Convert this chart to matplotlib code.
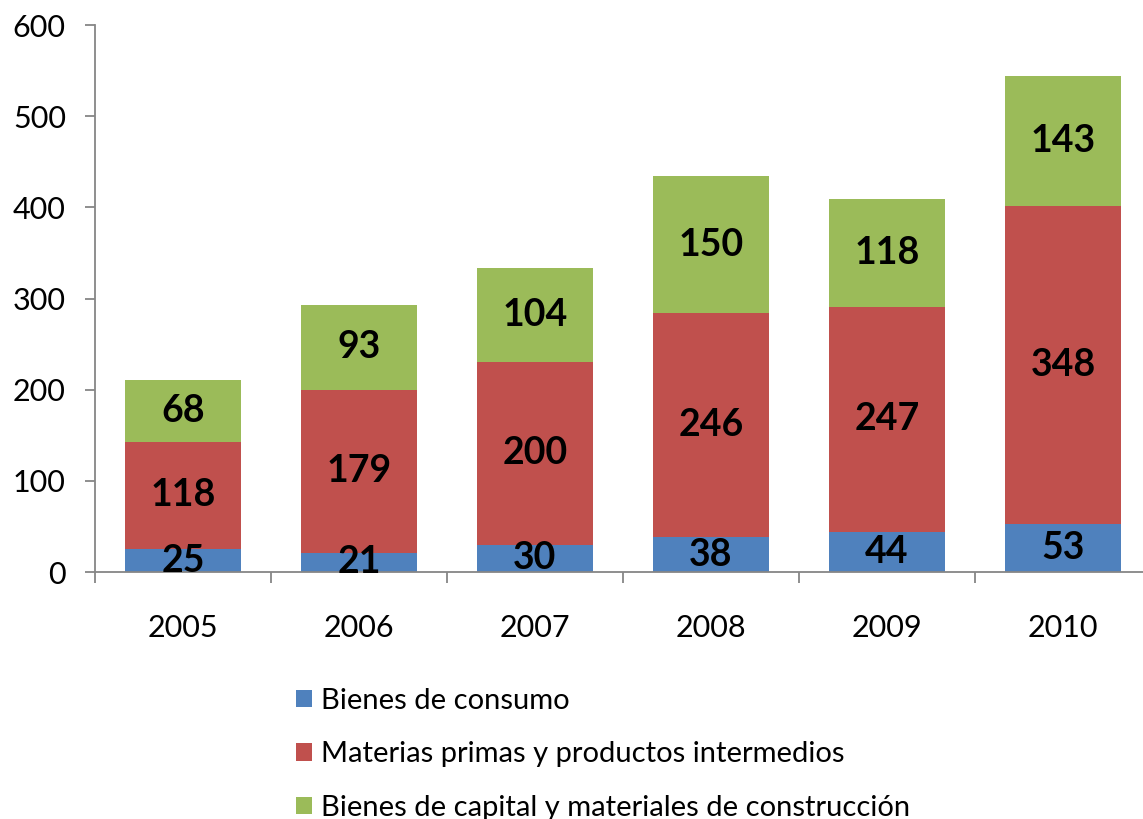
import matplotlib
matplotlib.use("Agg")
import matplotlib.pyplot as plt
import numpy as np

plt.rcParams["font.family"] = ["Lato", "DejaVu Sans"]

years = ["2005", "2006", "2007", "2008", "2009", "2010"]
consumo = [25, 21, 30, 38, 44, 53]
materias = [118, 179, 200, 246, 247, 348]
capital = [68, 93, 104, 150, 118, 143]

series = [
    ("Bienes de consumo", consumo, "#4F81BD"),
    ("Materias primas y productos intermedios", materias, "#C0504D"),
    ("Bienes de capital y materiales de construcción", capital, "#9BBB59"),
]

fig = plt.figure(figsize=(11.43, 8.19), dpi=100)
ax = fig.add_axes([95 / 1143, 247 / 819, 1056 / 1143, 547 / 819])

x = np.arange(len(years))
bottom = np.zeros(len(years))
for label, vals, color in series:
    vals = np.array(vals, dtype=float)
    ax.bar(x, vals, width=0.66, bottom=bottom, color=color, label=label, zorder=2)
    for xi, b, v in zip(x, bottom, vals):
        ax.text(xi, b + v / 2, str(int(v)), ha="center", va="center",
                fontsize=27, fontweight="bold", color="black", zorder=3)
    bottom += vals

ax.set_xlim(-0.5, len(years) - 0.5)
ax.set_ylim(0, 600)
ax.set_yticks(range(0, 601, 100))
ax.set_xticks(x)
ax.set_xticklabels(years)
ax.set_xticks(np.arange(-0.5, len(years), 1), minor=True)

axis_color = "#868686"
for side in ["top", "right"]:
    ax.spines[side].set_visible(False)
for side in ["left", "bottom"]:
    ax.spines[side].set_color(axis_color)
    ax.spines[side].set_linewidth(1.3)

ax.tick_params(axis="y", direction="out", length=7, width=1.3, color=axis_color,
               labelsize=22, pad=14)
ax.tick_params(axis="x", which="major", length=0, labelsize=22, pad=30)
ax.tick_params(axis="x", which="minor", direction="out", length=8, width=1.3,
               color=axis_color)

fig.legend(loc="upper left", bbox_to_anchor=(296 / 1143, 1 - 688 / 819),
           frameon=False, fontsize=21, handlelength=0.55, handleheight=0.55,
           handletextpad=0.3, labelspacing=0.94, borderpad=0, borderaxespad=0)

fig.savefig("out.png", dpi=100)
